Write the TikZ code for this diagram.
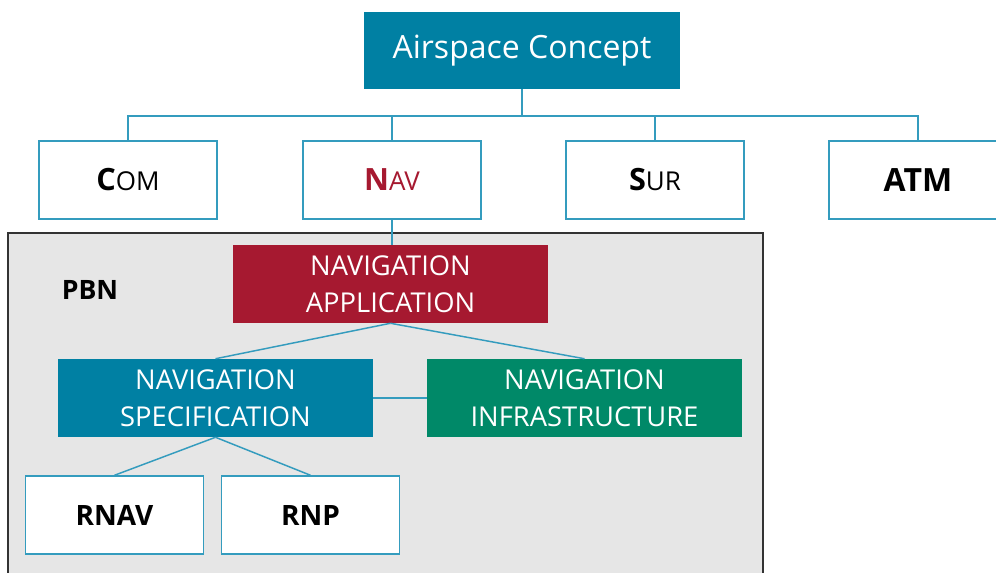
\documentclass[tikz,border=0pt]{standalone}
\usepackage{fontspec}
\setmainfont{Open Sans}
\usepackage{xcolor}
\usepackage{tikz}
\usetikzlibrary{positioning,calc}

\definecolor{aspteal}{RGB}{0,128,163}
\definecolor{aspline}{RGB}{52,156,190}
\definecolor{aspred}{RGB}{166,25,48}
\definecolor{aspgreen}{RGB}{0,137,104}
\definecolor{aspgray}{RGB}{230,230,230}

\begin{document}
\begin{tikzpicture}[
    x=0.75pt, y=-0.75pt,
    whitebox/.style={rectangle, draw=aspline, line width=1.1pt, fill=white, minimum width=133.5pt, minimum height=58.5pt, inner sep=0pt, font=\fontsize{23}{26}\selectfont},
    colbox/.style={rectangle, minimum width=236pt, minimum height=58.5pt, inner sep=0pt, align=center, text=white, font=\fontsize{20.5}{28}\selectfont},
    smallbox/.style={whitebox, font=\fontsize{21}{24}\selectfont\bfseries},
    link/.style={draw=aspline, line width=1.1pt}
]
    \useasboundingbox (0,0) rectangle (996,572);
    \fill[white] (0,0) rectangle (996,572);
    \draw[fill=aspgray, draw=black!80, line width=1.1pt] (8,233) rectangle (763,590);

    \node[rectangle, fill=aspteal, minimum width=237pt, minimum height=58pt, text=white, font=\fontsize{24}{28}\selectfont] (air) at (522,50.5) {Airspace Concept};

    \node[whitebox] (com) at (128,180) {{\bfseries C}{\fontsize{19.5}{22}\selectfont OM}};
    \node[whitebox, text=aspred] (nav) at (392,180) {{\bfseries N}{\fontsize{19.5}{22}\selectfont AV}};
    \node[whitebox] (sur) at (655,180) {{\bfseries S}{\fontsize{19.5}{22}\selectfont UR}};
    \node[whitebox, font=\fontsize{24}{26}\selectfont\bfseries] (atm) at (918,180) {ATM};

    \node[font=\fontsize{20}{24}\selectfont\bfseries] (pbn) at (90,290) {PBN};
    \node[colbox, fill=aspred] (app) at (390.5,284) {NAVIGATION\\APPLICATION};
    \node[colbox, fill=aspteal] (spec) at (215.5,398) {NAVIGATION\\SPECIFICATION};
    \node[colbox, fill=aspgreen] (infra) at (584.5,398) {NAVIGATION\\INFRASTRUCTURE};
    \node[smallbox] (rnav) at (114.5,515) {RNAV};
    \node[smallbox] (rnp) at (310.5,515) {RNP};

    \coordinate (bus) at (522,116);
    \draw[link] (air.south) -- (bus);
    \draw[link] (com.north) |- (bus) -| (atm.north);
    \draw[link] (nav.north) -- (nav.north |- bus);
    \draw[link] (sur.north) -- (sur.north |- bus);
    \draw[link] (nav.south) -- (nav.south |- app.north);
    \draw[link] (app.south) -- (spec.north);
    \draw[link] (app.south) -- (infra.north);
    \draw[link] (spec.east) -- (infra.west);
    \draw[link] (spec.south) -- (rnav.north);
    \draw[link] (spec.south) -- (rnp.north);
\end{tikzpicture}
\end{document}
